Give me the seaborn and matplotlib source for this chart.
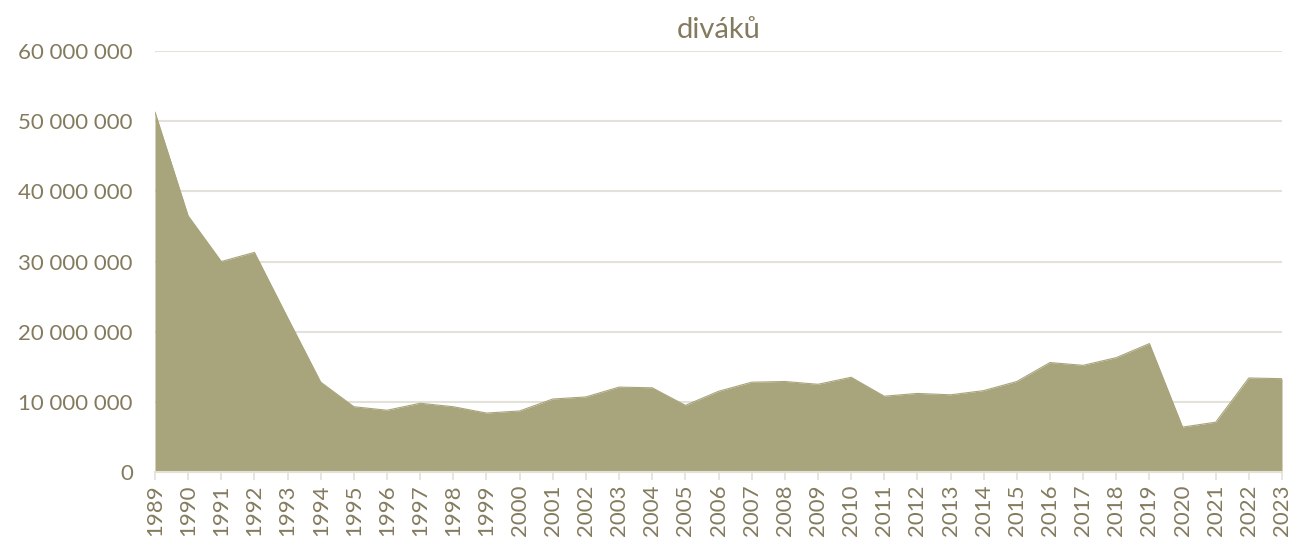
import numpy as np
import pandas as pd
import matplotlib
matplotlib.use("Agg")
import matplotlib.pyplot as plt
import seaborn as sns

# data
years = list(range(1989, 2024))
divaku = [
    51.3e6, 36.5e6, 30.0e6, 31.3e6, 22.0e6, 12.8e6, 9.3e6, 8.8e6, 9.8e6, 9.3e6,
    8.4e6, 8.7e6, 10.4e6, 10.7e6, 12.1e6, 12.0e6, 9.5e6, 11.5e6, 12.8e6, 12.9e6,
    12.5e6, 13.5e6, 10.8e6, 11.2e6, 11.0e6, 11.6e6, 12.9e6, 15.6e6, 15.2e6, 16.3e6,
    18.3e6, 6.4e6, 7.1e6, 13.4e6, 13.3e6,
]
y_ticks = [0, 10e6, 20e6, 30e6, 40e6, 50e6, 60e6]

FILL = "#A8A47B"
TEXT = "#847B5E"
GRID = "#E3E1D8"

sns.set_theme(style="white")
plt.rcParams['font.family'] = ['Lato', 'DejaVu Sans']

df = pd.DataFrame({'rok': years, 'divaku': divaku})

fig = plt.figure(figsize=(12.94, 5.4), dpi=100)
ax = fig.add_axes([155 / 1294, 68 / 540, (1282 - 155) / 1294, (472 - 51) / 540])

ax.fill_between(df['rok'], df['divaku'], 0, color=FILL, linewidth=0, zorder=2)
sns.lineplot(data=df, x='rok', y='divaku', ax=ax, color=FILL, linewidth=0.8, zorder=3)

ax.set_xlim(years[0], years[-1])
ax.set_ylim(0, 60e6)
ax.set_yticks(y_ticks)
ax.set_yticklabels([f"{int(v):,}".replace(",", " ") for v in y_ticks])
ax.set_xticks(years)
ax.set_xticklabels([str(y) for y in years], rotation=90)

ax.yaxis.grid(True, color=GRID, linewidth=1.5, zorder=1)
ax.set_axisbelow(True)
for s in ['top', 'right', 'left']:
    ax.spines[s].set_visible(False)
ax.spines['bottom'].set_color(GRID)
ax.spines['bottom'].set_linewidth(1.5)

ax.tick_params(axis='x', colors=TEXT, labelsize=16, length=6, width=1.2, color=GRID, pad=3, direction='out', bottom=True)
ax.tick_params(axis='y', colors=TEXT, labelsize=16, length=0, pad=16)
ax.set_xlabel("")
ax.set_ylabel("")
fig.text((155 + 1282) / 2 / 1294, 1 - 30 / 540, "diváků", ha='center', va='center', fontsize=21, color=TEXT)

fig.savefig("out.png", dpi=100)
